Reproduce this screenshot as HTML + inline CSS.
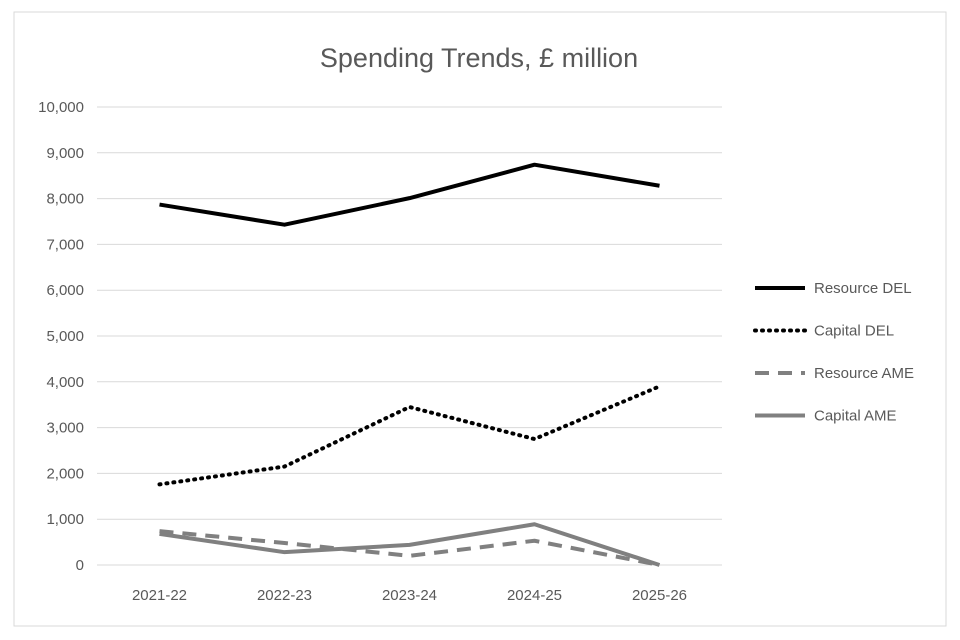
<!DOCTYPE html>
<html><head><meta charset="utf-8"><style>
html,body{margin:0;padding:0;background:#fff;}
svg{display:block;font-family:"Liberation Sans",sans-serif;}
</style></head><body>
<svg id="chart" width="960" height="640">
<rect x="14" y="12" width="932" height="614" fill="#fff" stroke="#d9d9d9"/>
<text x="479" y="67" text-anchor="middle" font-size="27" fill="#595959">Spending Trends, £ million</text>
<g id="grid"></g><g id="yticks"></g><g id="xticks"></g><g id="series"></g><g id="legend"></g>
</svg>
<script>
const categories = ["2021-22","2022-23","2023-24","2024-25","2025-26"];
const resourceDEL = [7870,7430,8010,8740,8280];
const capitalDEL = [1760,2150,3450,2750,3900];
const resourceAME = [740,480,200,530,0];
const capitalAME = [680,280,440,890,0];
const yTicks = [0,1000,2000,3000,4000,5000,6000,7000,8000,9000,10000];
const seriesNames = ["Resource DEL","Capital DEL","Resource AME","Capital AME"];

const NS="http://www.w3.org/2000/svg";
const x0=97,x1=722,yTop=107,yBot=565,yMax=10000;
const xs=i=>x0+(x1-x0)/categories.length*(i+0.5);
const ys=v=>yBot-(v/yMax)*(yBot-yTop);
function mk(tag,attrs,parent,text){const e=document.createElementNS(NS,tag);for(const k in attrs)e.setAttribute(k,attrs[k]);if(text!==undefined)e.textContent=text;document.getElementById(parent).appendChild(e);return e;}
yTicks.forEach(t=>{
  const l=mk('line',{x1:x0,x2:x1,y1:ys(t),y2:ys(t),stroke:'#d9d9d9','stroke-width':1},'grid');
  
  
  const tx=mk('text',{x:84,y:ys(t)+5,'text-anchor':'end','font-size':15,fill:'#595959'},'yticks',t.toLocaleString('en-US'));
  
  
});
categories.forEach((c,i)=>{
  const tx=mk('text',{x:xs(i),y:600,'text-anchor':'middle','font-size':15,fill:'#595959'},'xticks',c);
  
  
});
const styles=[
  {stroke:'#000',w:4,dash:''},
  {stroke:'#000',w:4,dash:'1 6',cap:'round'},
  {stroke:'#808080',w:4,dash:'14 9'},
  {stroke:'#808080',w:4,dash:''}];
const data=[resourceDEL,capitalDEL,resourceAME,capitalAME];
data.forEach((d,si)=>{
  const s=styles[si];
  const p=mk('polyline',{points:d.map((v,i)=>xs(i)+','+ys(v)).join(' '),fill:'none',stroke:s.stroke,'stroke-width':s.w,'stroke-dasharray':s.dash,'stroke-linecap':s.cap||'butt','stroke-linejoin':'round'},'series');
  
  
  const ly=288+si*42.5;
  const ll=mk('line',{x1:755,x2:805,y1:ly,y2:ly,stroke:s.stroke,'stroke-width':s.w,'stroke-dasharray':s.dash,'stroke-linecap':s.cap||'butt'},'legend');
  
  
  const lt=mk('text',{x:814,y:ly+5,'font-size':15,fill:'#595959'},'legend',seriesNames[si]);
  
  
});
</script>
</body></html>
